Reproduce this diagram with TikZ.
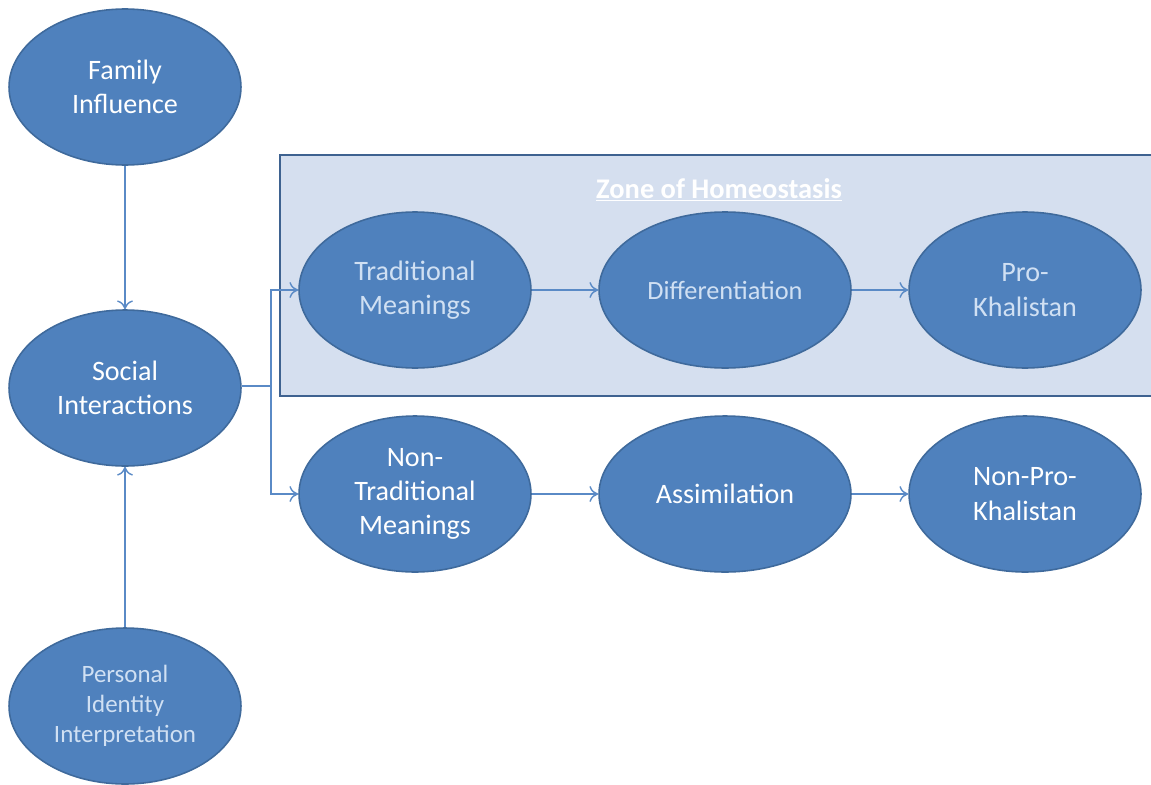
\documentclass[tikz,border=0pt]{standalone}
\usepackage{fontspec}
\setmainfont{Carlito}
\usetikzlibrary{shapes.geometric, arrows.meta, positioning, calc}
\definecolor{ovalblue}{HTML}{4F81BD}
\definecolor{ovaledge}{HTML}{3F6A9C}
\definecolor{zonefill}{HTML}{D5DFEF}
\definecolor{zoneedge}{HTML}{3E6290}
\definecolor{linkblue}{HTML}{5A8AC6}
\definecolor{palefont}{HTML}{D0E0F3}

\begin{document}
\begin{tikzpicture}[
    x=0.02cm, y=0.02cm,
    >={To[length=5pt, width=9pt]},
    oval/.style={ellipse, draw=ovaledge, line width=0.9pt, fill=ovalblue, minimum width=4.64cm, minimum height=3.12cm, inner sep=0pt, align=center, text=white, font=\fontsize{16}{19.5}\selectfont},
    wideoval/.style={oval, minimum width=5.04cm},
    pale/.style={text=palefont},
    zone/.style={draw=zoneedge, line width=1.3pt, fill=zonefill},
    flow/.style={->, linkblue, line width=0.8pt}
  ]
    \useasboundingbox (0,0) rectangle (1151,-784);

    % Zone box
    \draw[zone] (280,-155) rectangle (1160,-396);
    \node[text=white, font=\fontsize{16.2}{19}\selectfont\bfseries] (zonetitle) at (719,-190) {\underline{Zone of Homeostasis}};

    % Left column
    \node[oval] (family) at (125,-87) {Family\\Influence};
    \node[oval] (social) at (125,-388) {Social\\Interactions};
    \node[oval, pale, font=\fontsize{14.2}{17}\selectfont] (personal) at (125,-706) {Personal\\Identity\\Interpretation};

    % Upper row (inside zone)
    \node[oval, pale] (trad) at (415,-290) {Traditional\\Meanings};
    \node[wideoval, pale, font=\fontsize{15}{18}\selectfont] (diff) at (725,-290) {Differentiation};
    \node[oval, pale] (pro) at (1025,-290) {Pro-\\Khalistan};

    % Lower row
    \node[oval] (nontrad) at (415,-494) {Non-\\Traditional\\Meanings};
    \node[wideoval] (assim) at (725,-494) {Assimilation};
    \node[oval] (nonpro) at (1025,-494) {Non-Pro-\\Khalistan};

    % Connectors
    \coordinate (split) at (271,-386);
    \draw[flow] (family) -- (social);
    \draw[flow] (personal) -- (social);
    \draw[linkblue, line width=0.8pt] (social.east |- split) -- (split);
    \draw[flow] (split) |- (trad.west);
    \draw[flow] (split) |- (nontrad.west);
    \draw[flow] (trad) -- (diff);
    \draw[flow] (diff) -- (pro);
    \draw[flow] (nontrad) -- (assim);
    \draw[flow] (assim) -- (nonpro);
  \end{tikzpicture}
\end{document}
